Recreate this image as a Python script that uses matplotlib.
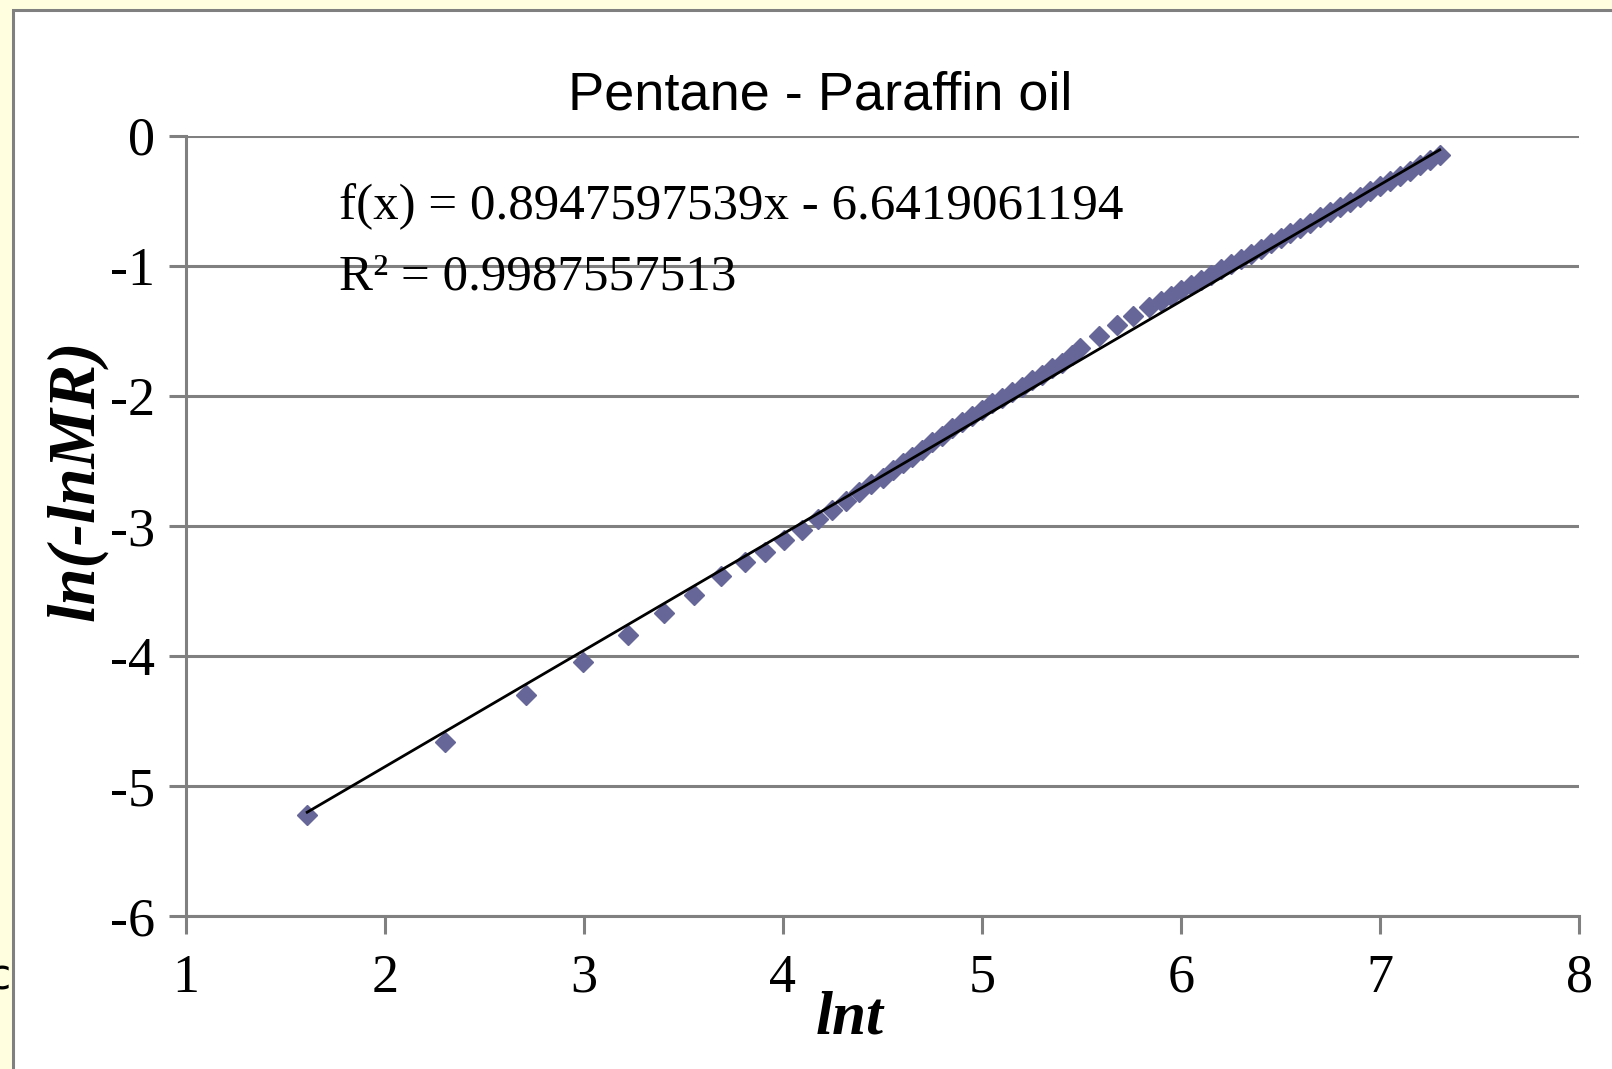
import numpy as np
import matplotlib
matplotlib.use('Agg')
import matplotlib.pyplot as plt
from matplotlib.patches import Rectangle

# values (x = ln t, y = ln(-ln MR))
lnt = [1.609, 2.303, 2.708, 2.996, 3.219, 3.401, 3.555, 3.689, 3.807, 3.912,
       4.007, 4.094, 4.174, 4.248, 4.317, 4.382, 4.443, 4.500, 4.554, 4.605,
       4.65, 4.70, 4.75, 4.80, 4.85, 4.90, 4.95, 5.00, 5.05, 5.10,
       5.15, 5.20, 5.25, 5.30, 5.35, 5.40, 5.45, 5.49, 5.59, 5.68,
       5.76, 5.84, 5.90, 5.95, 6.00, 6.05, 6.10, 6.15, 6.20, 6.25,
       6.30, 6.35, 6.40, 6.45, 6.50, 6.55, 6.60, 6.65, 6.70, 6.75,
       6.80, 6.85, 6.90, 6.95, 7.00, 7.05, 7.10, 7.15, 7.20, 7.25, 7.30]
ln_mr = [-5.22, -4.66, -4.30, -4.05, -3.84, -3.67, -3.53, -3.39, -3.28, -3.20,
         -3.11, -3.03, -2.95, -2.88, -2.81, -2.74, -2.68, -2.63, -2.57, -2.52,
         -2.47, -2.42, -2.36, -2.31, -2.25, -2.20, -2.16, -2.11, -2.06, -2.02,
         -1.97, -1.93, -1.88, -1.84, -1.79, -1.75, -1.69, -1.63, -1.54, -1.46,
         -1.385, -1.32, -1.27, -1.23, -1.19, -1.15, -1.11, -1.07, -1.03, -0.99,
         -0.95, -0.91, -0.87, -0.83, -0.79, -0.75, -0.71, -0.67, -0.63, -0.59,
         -0.55, -0.51, -0.47, -0.43, -0.39, -0.35, -0.31, -0.27, -0.23, -0.19, -0.15]

slope = 0.8947597539
intercept = -6.6419061194
r2 = 0.9987557513

xticks = [1, 2, 3, 4, 5, 6, 7, 8]
xtick_labels = ['1', '2', '3', '4', '5', '6', '7', '8']
yticks = [-6, -5, -4, -3, -2, -1, 0]
ytick_labels = ['-6', '-5', '-4', '-3', '-2', '-1', '0']

W, H = 1612, 1069
gray = '#808080'
fig = plt.figure(figsize=(W / 100, H / 100), dpi=100)
fig.patch.set_facecolor('#ffffe0')

# stray text of the page behind the chart
fig.text(12 / W, 1 - 978 / H, 'oc', ha='right', va='center', fontsize=30, family='DejaVu Sans')

# white chart frame
fig.add_artist(Rectangle((13 / W, -0.05), 1.2, 1.05 - 10 / H, transform=fig.transFigure,
                         facecolor='white', edgecolor=gray, lw=2.2, zorder=0))

ax = fig.add_axes([186 / W, 1 - 916 / H, (1579 - 186) / W, (916 - 135.5) / H])
ax.set_facecolor('white')
ax.set_xlim(1, 8)
ax.set_ylim(-6, 0)
ax.set_xticks(xticks)
ax.set_xticklabels(xtick_labels)
ax.set_yticks(yticks)
ax.set_yticklabels(ytick_labels)
ax.yaxis.grid(True, color=gray, lw=2.2)
ax.set_axisbelow(True)
for s in ['top', 'right']:
    ax.spines[s].set_visible(False)
for s in ['left', 'bottom']:
    ax.spines[s].set_color(gray)
    ax.spines[s].set_linewidth(2.2)
ax.tick_params(axis='x', direction='out', length=13, width=2.2, color=gray, pad=14, labelsize=39)
ax.tick_params(axis='y', direction='out', length=12, width=2.2, color=gray, pad=10, labelsize=39)
for lab in ax.get_xticklabels() + ax.get_yticklabels():
    lab.set_fontfamily('Liberation Serif')

ax.plot(lnt, ln_mr, ls='none', marker='D', ms=10, color='#666699', mec='#666699', zorder=3)
xs = np.array([min(lnt), max(lnt)])
ax.plot(xs, slope * xs + intercept, color='black', lw=2, zorder=4)

fig.text(339 / W, 1 - 219 / H, 'f(x) = %.10fx - %.10f' % (slope, -intercept),
         ha='left', va='baseline', fontsize=36.7, family='Liberation Serif')
fig.text(339 / W, 1 - 289 / H, 'R² = %.10f' % r2,
         ha='left', va='baseline', fontsize=36.7, family='Liberation Serif')

fig.text(820 / W, 1 - 110 / H, 'Pentane - Paraffin oil', ha='center', va='baseline',
         fontsize=39, family='Liberation Sans')
fig.text(850 / W, 1 - 1033 / H, 'lnt', ha='center', va='baseline', fontsize=44,
         family='Liberation Serif', weight='bold', style='italic')
fig.text(77 / W, 1 - 480 / H, 'ln(-lnMR)', rotation=90, ha='center', va='center', fontsize=48,
         family='Liberation Serif', weight='bold', style='italic')

fig.savefig('out.png', dpi=100)
